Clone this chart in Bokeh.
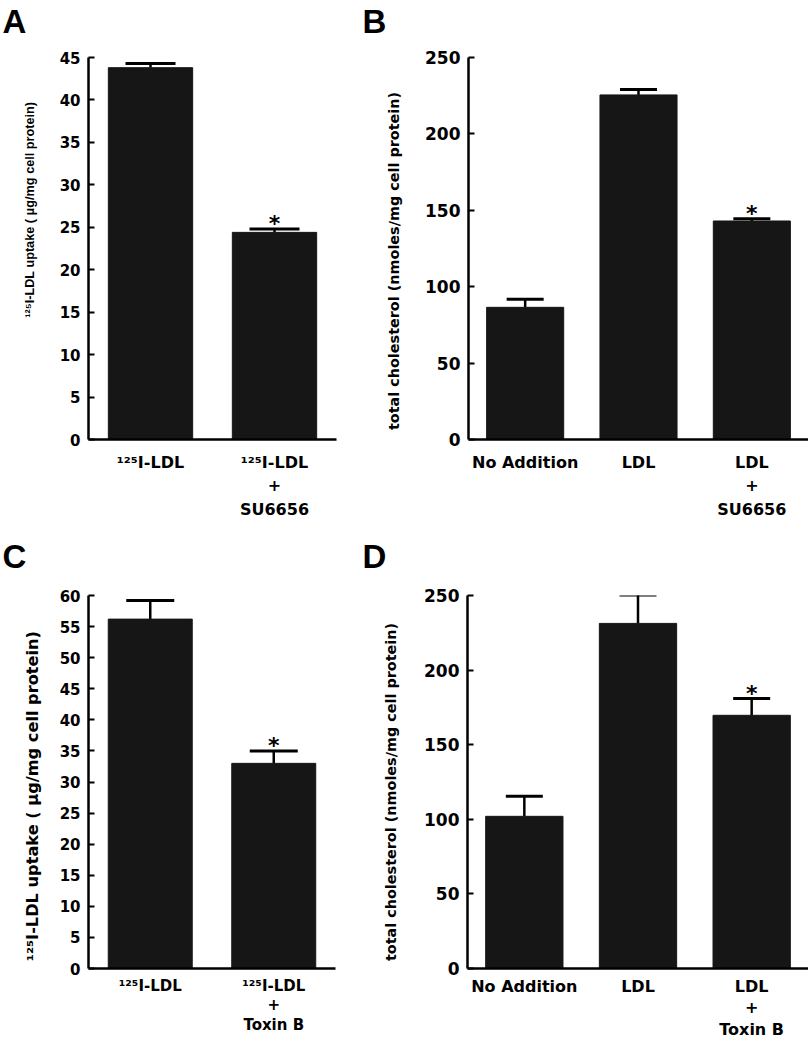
from bokeh.plotting import figure
from bokeh.models import ColumnDataSource, Whisker, TeeHead, FixedTicker, FactorRange, Range1d, Title
from bokeh.layouts import row, column
from bokeh.embed import file_html
from bokeh.resources import INLINE
from bokeh.core.properties import value

# ---------------- data ----------------
a_cats = ["¹²⁵I-LDL", "¹²⁵I-LDL\n+\nSU6656"]
a_vals = [43.8, 24.4]
a_upper = [44.3, 24.8]
a_star = [False, True]
a_ticks = [0, 5, 10, 15, 20, 25, 30, 35, 40, 45]

b_cats = ["No Addition", "LDL", "LDL\n+\nSU6656"]
b_vals = [86.5, 225.5, 143.0]
b_upper = [91.8, 229.0, 144.4]
b_star = [False, False, True]
b_ticks = [0, 50, 100, 150, 200, 250]

c_cats = ["¹²⁵I-LDL", "¹²⁵I-LDL\n+\nToxin B"]
c_vals = [56.2, 33.0]
c_upper = [59.2, 35.0]
c_star = [False, True]
c_ticks = [0, 5, 10, 15, 20, 25, 30, 35, 40, 45, 50, 55, 60]

d_cats = ["No Addition", "LDL", "LDL\n+\nToxin B"]
d_vals = [102.0, 231.3, 169.7]
d_upper = [115.5, 250.3, 181.0]
d_star = [False, False, True]
d_ticks = [0, 50, 100, 150, 200, 250]

ylabel_uptake = "¹²⁵I-LDL uptake ( μg/mg cell protein)"
ylabel_chol = "total cholesterol (nmoles/mg cell protein)"

BAR = "#161616"
FONT = "DejaVu Sans"
NB = "\u00a0"  # non-breaking space, used only to nudge a centred axis title


def panel(cats, vals, upper, star, ticks, ylabel, letter, width, height,
          bl, br, bt, bb, tick_fs, label_font, label_fs, cap, label_standoff,
          letter_off, spacer_fs, cat_fs, line_h, cat_standoff):
    p = figure(x_range=FactorRange(*cats, range_padding=0),
               y_range=Range1d(ticks[0], ticks[-1]),
               width=width, height=height, output_backend="svg",
               toolbar_location=None, min_border_left=bl, min_border_right=br,
               min_border_top=bt, min_border_bottom=bb)
    src = ColumnDataSource(dict(x=cats, top=vals, upper=upper))
    p.vbar(x="x", top="top", width=0.68, source=src, fill_color=BAR, line_color=BAR)
    p.add_layout(Whisker(base="x", upper="upper", lower="top", source=src,
                         dimension="height", line_width=2.5, line_color="black",
                         lower_head=None,
                         upper_head=TeeHead(size=cap, line_width=3, line_color="black")))
    sx = [c for c, s in zip(cats, star) if s]
    sy = [u for u, s in zip(upper, star) if s]
    p.text(x=sx, y=sy, text=["*"] * len(sx), text_align="center",
           text_baseline="alphabetic", y_offset=-5, text_font=value(FONT),
           text_font_style="bold", text_font_size="22px", text_color="black")

    # panel letter, lifted above the frame by an empty spacer title
    p.title.text = letter
    p.title.align = "left"
    p.title.offset = letter_off
    p.title.text_font = "Liberation Sans"
    p.title.text_font_style = "bold"
    p.title.text_font_size = "33px"
    p.title.text_color = "black"
    p.title.standoff = 0
    p.add_layout(Title(text=" ", text_font_size=spacer_fs, standoff=0), "above")

    p.outline_line_color = None
    p.xgrid.grid_line_color = None
    p.ygrid.grid_line_color = None
    p.background_fill_color = "white"
    p.border_fill_color = "white"

    ya = p.yaxis[0]
    ya.ticker = FixedTicker(ticks=ticks)
    ya.minor_tick_line_color = None
    ya.major_tick_in = 6
    ya.major_tick_out = 0
    ya.major_tick_line_width = 2
    ya.axis_line_width = 2.5
    ya.major_label_standoff = 8
    ya.major_label_text_font = FONT
    ya.major_label_text_font_style = "bold"
    ya.major_label_text_font_size = tick_fs
    ya.major_label_text_color = "black"
    ya.axis_label = ylabel
    ya.axis_label_text_font = label_font
    ya.axis_label_text_font_style = "bold"
    ya.axis_label_text_font_size = label_fs
    ya.axis_label_text_color = "black"
    ya.axis_label_standoff = label_standoff

    xa = p.xaxis[0]
    xa.major_tick_line_color = None
    xa.major_tick_in = 0
    xa.major_tick_out = 0
    xa.minor_tick_line_color = None
    xa.axis_line_width = 2.5
    xa.axis_label_standoff = 0
    xa.major_label_standoff = cat_standoff
    xa.major_label_text_font = FONT
    xa.major_label_text_font_style = "bold"
    xa.major_label_text_font_size = cat_fs
    xa.major_label_text_color = "black"
    xa.major_label_text_line_height = line_h
    return p


pA = panel(a_cats, a_vals, a_upper, a_star, a_ticks, NB * 22 + ylabel_uptake, "A",
           360, 535, 88, 24, 57, 94, "15px", "Liberation Sans", "12.7px", 50, 20, -86,
           "14.5px", "16px", 1.25, 13)
pB = panel(b_cats, b_vals, b_upper, b_star, b_ticks, ylabel_chol + NB * 5, "B",
           448, 535, 108, 0, 57, 96, "17px", FONT, "14.4px", 37, 20, -106,
           "14.5px", "16px", 1.25, 13)
pC = panel(c_cats, c_vals, c_upper, c_star, c_ticks, ylabel_uptake + NB * 5, "C",
           360, 515, 88, 25, 60, 75, "15px", FONT, "16.2px", 48, 15, -86,
           "17px", "15px", 1.1, 8)
pD = panel(d_cats, d_vals, d_upper, d_star, d_ticks, ylabel_chol + NB * 4, "D",
           448, 515, 107, 0, 59, 82, "17px", FONT, "14.4px", 37, 22, -105,
           "17px", "16px", 1.15, 8)

layout = column(row(pA, pB), row(pC, pD))
open("out.html", "w").write(file_html(layout, INLINE))
